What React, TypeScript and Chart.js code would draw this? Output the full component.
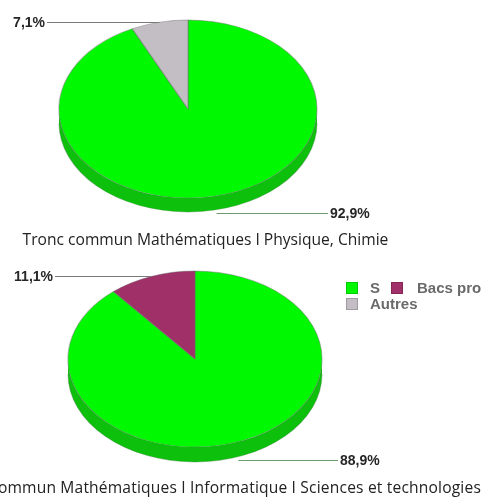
import React, { useEffect, useRef } from "react";
import { Chart, registerables } from "chart.js";

Chart.register(...registerables);

const categories = ["S", "Bacs pro", "Autres"];
const valuesPhysique = [92.9, 0, 7.1];
const valuesInfo = [88.9, 11.1, 0];
const titlePhysique = "Tronc commun Mathématiques I Physique, Chimie";
const titleInfo = "Tronc commun Mathématiques I Informatique I Sciences et technologies";

const topColors = ["#00f800", "#a03068", "#c2bec4"];
const sideColors = ["#0cc00c", "#7a2050", "#9a969c"];

type LabelCfg = { index: number; side: "left" | "right"; x: number; lineColor: string };

type PieProps = {
  values: number[];
  top: number;
  height: number;
  cx: number;
  cy: number;
  rx: number;
  ry: number;
  depth: number;
  labels: LabelCfg[];
};

function fmt(v: number) {
  return v.toFixed(1).replace(".", ",") + "%";
}

function Pie3D(props: PieProps) {
  const ref = useRef<HTMLCanvasElement | null>(null);
  useEffect(() => {
    const { values, height, cx, cy, rx, ry, depth, labels } = props;
    const W = 484;
    const sx = rx / ry;
    const ellipsePlugin = {
      id: "ellipse3d",
      beforeDatasetsDraw(chart: any) {
        const ctx = chart.ctx;
        const meta = chart.getDatasetMeta(0);
        const el0 = meta.data[0];
        const { x, y } = el0.getProps(["x", "y"], true);
        ctx.save();
        ctx.translate(x, y);
        ctx.scale(sx, 1);
        ctx.translate(-x, -y);
        meta.data.forEach((el: any, i: number) => {
          const p = el.getProps(["x", "y", "startAngle", "endAngle", "outerRadius"], true);
          if (values[i] === 0) return;
          for (let k = -1; k <= 1; k++) {
            const lo = Math.max(p.startAngle, 2 * Math.PI * k);
            const hi = Math.min(p.endAngle, 2 * Math.PI * k + Math.PI);
            if (hi > lo) {
              ctx.beginPath();
              ctx.arc(p.x, p.y, p.outerRadius, lo, hi);
              ctx.arc(p.x, p.y + depth, p.outerRadius, hi, lo, true);
              ctx.closePath();
              ctx.fillStyle = sideColors[i];
              ctx.fill();
            }
          }
        });
        ctx.beginPath();
        ctx.arc(x, y + depth, el0.outerRadius, 0, Math.PI);
        ctx.lineWidth = 0.8;
        ctx.strokeStyle = "rgba(60,120,60,0.35)";
        ctx.stroke();
      },
      afterDatasetsDraw(chart: any) {
        chart.ctx.restore();
      },
      afterDraw(chart: any) {
        const ctx = chart.ctx;
        const meta = chart.getDatasetMeta(0);
        labels.forEach((lb) => {
          const el = meta.data[lb.index];
          const p = el.getProps(["x", "y", "startAngle", "endAngle", "outerRadius"], true);
          const mid = (p.startAngle + p.endAngle) / 2;
          const px = p.x + p.outerRadius * sx * Math.cos(mid);
          let py = p.y + p.outerRadius * Math.sin(mid);
          if (Math.sin(mid) > 0) py += depth + 3;
          py = Math.round(py) + 0.5;
          ctx.save();
          ctx.beginPath();
          ctx.moveTo(px, py);
          ctx.lineTo(lb.side === "left" ? lb.x + 2 : lb.x - 2, py);
          ctx.lineWidth = 1.2;
          ctx.strokeStyle = lb.lineColor;
          ctx.stroke();
          ctx.font = "bold 14px 'Liberation Sans', Arial, sans-serif";
          ctx.fillStyle = "#262626";
          ctx.textBaseline = "middle";
          ctx.textAlign = lb.side === "left" ? "right" : "left";
          ctx.fillText(fmt(values[lb.index]), lb.x, py + 1);
          ctx.restore();
        });
      },
    };
    const chart = new Chart(ref.current as HTMLCanvasElement, {
      type: "pie",
      data: {
        labels: categories,
        datasets: [
          {
            data: values,
            backgroundColor: topColors,
            borderColor: "rgba(110,110,110,0.45)",
            borderWidth: (c: any) => (c.raw === 0 ? 0 : 0.8),
            radius: ry,
            clip: false as any,
          } as any,
        ],
      },
      options: {
        animation: false,
        responsive: false,
        maintainAspectRatio: false,
        layout: {
          padding: {
            left: cx - ry,
            right: W - (cx + ry),
            top: cy - ry,
            bottom: height - (cy + ry),
          },
        },
        plugins: {
          legend: { display: false },
          tooltip: { enabled: false },
          title: { display: false },
        },
      } as any,
      plugins: [ellipsePlugin],
    });
    return () => chart.destroy();
  }, []);
  return (
    <canvas
      ref={ref}
      width={484}
      height={props.height}
      style={{ position: "absolute", left: 0, top: props.top, width: 484, height: props.height }}
    />
  );
}

const legendText: React.CSSProperties = {
  position: "absolute",
  font: "bold 15px 'Liberation Sans', Arial, sans-serif",
  color: "#6a6a6a",
  lineHeight: "15px",
  whiteSpace: "nowrap",
};

function Swatch({ x, y, color }: { x: number; y: number; color: string }) {
  return (
    <div
      style={{
        position: "absolute",
        left: x,
        top: y,
        width: 10,
        height: 10,
        background: color,
        border: "1px solid rgba(0,0,0,0.18)",
      }}
    />
  );
}

const titleFont = "15.6px 'Open Sans', sans-serif";

export default function App() {
  return (
    <div
      style={{
        position: "fixed",
        left: 0,
        top: 0,
        width: 484,
        height: 497,
        overflow: "hidden",
        background: "#ffffff",
      }}
    >
      <Pie3D
        values={valuesPhysique}
        top={0}
        height={232}
        cx={188}
        cy={109}
        rx={129}
        ry={89}
        depth={14}
        labels={[
          { index: 2, side: "left", x: 45, lineColor: "#7a7a7a" },
          { index: 0, side: "right", x: 330, lineColor: "#6f9a6f" },
        ]}
      />
      <div
        style={{
          position: "absolute",
          left: 0,
          width: 411,
          top: 228,
          textAlign: "center",
          font: titleFont,
          color: "#222",
          whiteSpace: "nowrap",
        }}
      >
        {titlePhysique}
      </div>
      <Pie3D
        values={valuesInfo}
        top={250}
        height={232}
        cx={195}
        cy={109}
        rx={127}
        ry={88}
        depth={15}
        labels={[
          { index: 1, side: "left", x: 53, lineColor: "#7a7a7a" },
          { index: 0, side: "right", x: 340, lineColor: "#6f9a6f" },
        ]}
      />
      <div
        style={{
          position: "absolute",
          right: 3,
          top: 476,
          font: titleFont,
          letterSpacing: "0.17px",
          color: "#222",
          whiteSpace: "nowrap",
        }}
      >
        {titleInfo}
      </div>
      <Swatch x={346} y={282} color={topColors[0]} />
      <div style={{ ...legendText, left: 370, top: 280 }}>{categories[0]}</div>
      <Swatch x={391} y={282} color={topColors[1]} />
      <div style={{ ...legendText, left: 417, top: 280 }}>{categories[1]}</div>
      <Swatch x={346} y={298} color={topColors[2]} />
      <div style={{ ...legendText, left: 370, top: 296 }}>{categories[2]}</div>
    </div>
  );
}
